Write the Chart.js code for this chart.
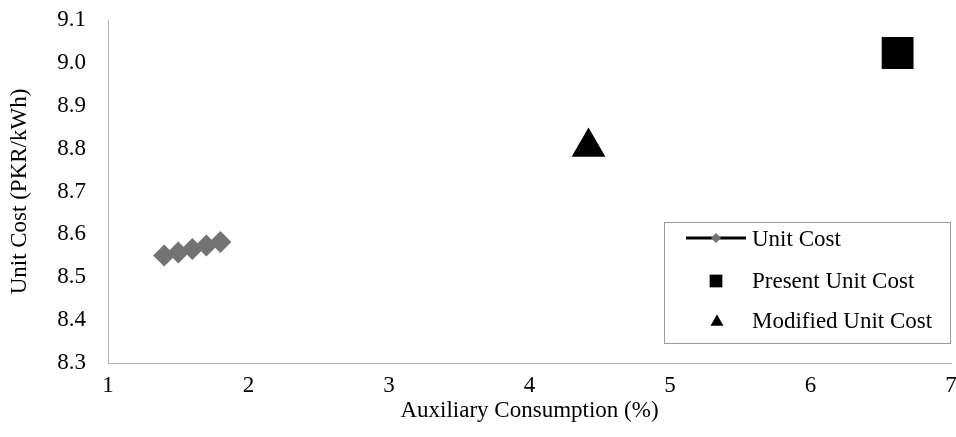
<!DOCTYPE html>
<html>
<head>
<meta charset="utf-8">
<script src="https://cdn.jsdelivr.net/npm/chart.js@4.4.0/dist/chart.umd.min.js"></script>
<style>
  html, body { margin: 0; padding: 0; background: #fff; }
  #wrap { width: 956px; height: 437px; }
</style>
</head>
<body>
<div id="wrap"><canvas id="myChart" width="956" height="437"></canvas></div>
<script>
// data
var auxConsumption = [1.4, 1.5, 1.6, 1.7, 1.8];
var unitCost = [8.551, 8.558, 8.566, 8.574, 8.582];
var presentAux = [6.62];
var presentCost = [9.023];
var modifiedAux = [4.42];
var modifiedCost = [8.804];
var seriesNames = ['Unit Cost', 'Present Unit Cost', 'Modified Unit Cost'];
var xTicks = [1, 2, 3, 4, 5, 6, 7];
var yTicks = [8.3, 8.4, 8.5, 8.6, 8.7, 8.8, 8.9, 9.0, 9.1];

var serif = '"Liberation Serif", "Times New Roman", serif';
var axisGrey = '#b3b3b3';
var fontSize = 23;

function toPoints(xs, ys) {
  return xs.map(function (x, i) { return { x: x, y: ys[i] }; });
}

// legend box drawn inside the plot, like the excel one
var boxLegend = {
  id: 'boxLegend',
  afterDraw: function (chart) {
    var ctx = chart.ctx;
    var sets = chart.data.datasets;
    ctx.save();
    ctx.strokeStyle = '#9a9a9a';
    ctx.lineWidth = 1;
    ctx.strokeRect(664.5, 222.5, 286, 121);

    // Unit Cost: line with diamond
    ctx.strokeStyle = sets[0].borderColor;
    ctx.lineWidth = 3;
    ctx.beginPath();
    ctx.moveTo(686, 238);
    ctx.lineTo(746, 238);
    ctx.stroke();
    ctx.fillStyle = sets[0].pointBackgroundColor;
    Chart.helpers.drawPoint(ctx, { pointStyle: 'rectRot', radius: 5, borderWidth: 0 }, 716, 238);

    ctx.fillStyle = sets[1].pointBackgroundColor;
    ctx.strokeStyle = sets[1].pointBackgroundColor;
    Chart.helpers.drawPoint(ctx, { pointStyle: 'rect', radius: 9, borderWidth: 0 }, 716, 281);
    ctx.fillStyle = sets[2].pointBackgroundColor;
    Chart.helpers.drawPoint(ctx, { pointStyle: 'triangle', radius: 7.5, borderWidth: 0 }, 717, 322);

    ctx.fillStyle = '#000';
    ctx.font = fontSize + 'px ' + serif;
    ctx.textBaseline = 'middle';
    ctx.textAlign = 'left';
    ctx.fillText(seriesNames[0], 752, 240);
    ctx.fillText(seriesNames[1], 752, 282);
    ctx.fillText(seriesNames[2], 752, 322);
    ctx.restore();
  }
};

const data = {
  datasets: [
    {
      label: seriesNames[0],
      data: toPoints(auxConsumption, unitCost),
      showLine: true,
      borderColor: '#000000',
      borderWidth: 3,
      pointStyle: 'rectRot',
      pointRadius: 11,
      pointBackgroundColor: '#737373',
      pointBorderWidth: 0
    },
    {
      label: seriesNames[1],
      data: toPoints(presentAux, presentCost),
      pointStyle: 'rect',
      pointRadius: 22.5,
      pointBackgroundColor: '#000000',
      pointBorderColor: '#000000',
      pointBorderWidth: 0
    },
    {
      label: seriesNames[2],
      data: toPoints(modifiedAux, modifiedCost),
      pointStyle: 'triangle',
      pointRadius: 19.5,
      pointBackgroundColor: '#000000',
      pointBorderColor: '#000000',
      pointBorderWidth: 0
    }
  ]
};

var chartOption = {
  responsive: false,
  animation: false,
  layout: { autoPadding: false, padding: { left: 0, right: 5, top: 20, bottom: 0 } },
  plugins: {
    legend: { display: false },
    tooltip: { enabled: false }
  },
  scales: {
    x: {
      type: 'linear',
      min: 1,
      max: 7,
      afterBuildTicks: function (scale) {
        scale.ticks = xTicks.map(function (v) { return { value: v }; });
      },
      afterFit: function (scale) {
        scale.height = 74;
        scale.paddingLeft = 0;
        scale.paddingRight = 0;
      },
      grid: { display: false, drawTicks: false },
      border: { display: true, color: axisGrey, width: 1 },
      ticks: {
        padding: 9,
        color: '#000',
        font: { family: serif, size: fontSize },
        maxRotation: 0
      },
      title: {
        display: true,
        text: 'Auxiliary Consumption (%)',
        color: '#000',
        font: { family: serif, size: fontSize },
        padding: { top: 2, bottom: 12 }
      }
    },
    y: {
      type: 'linear',
      min: 8.3,
      max: 9.1,
      afterBuildTicks: function (scale) {
        scale.ticks = yTicks.map(function (v) { return { value: v }; });
      },
      afterFit: function (scale) {
        scale.width = 108;
        scale.paddingTop = 0;
        scale.paddingBottom = 0;
      },
      grid: { display: false, drawTicks: false },
      border: { display: true, color: axisGrey, width: 1 },
      ticks: {
        padding: 22,
        color: '#000',
        font: { family: serif, size: fontSize },
        callback: function (v) { return Number(v).toFixed(1); }
      },
      title: {
        display: true,
        text: 'Unit Cost (PKR/kWh)',
        color: '#000',
        font: { family: serif, size: fontSize },
        padding: { top: 6, bottom: 4 }
      }
    }
  }
};

const myChart = new Chart(document.getElementById('myChart'), {
  type: 'scatter',
  data: data,
  options: chartOption,
  plugins: [boxLegend]
});
</script>
</body>
</html>
